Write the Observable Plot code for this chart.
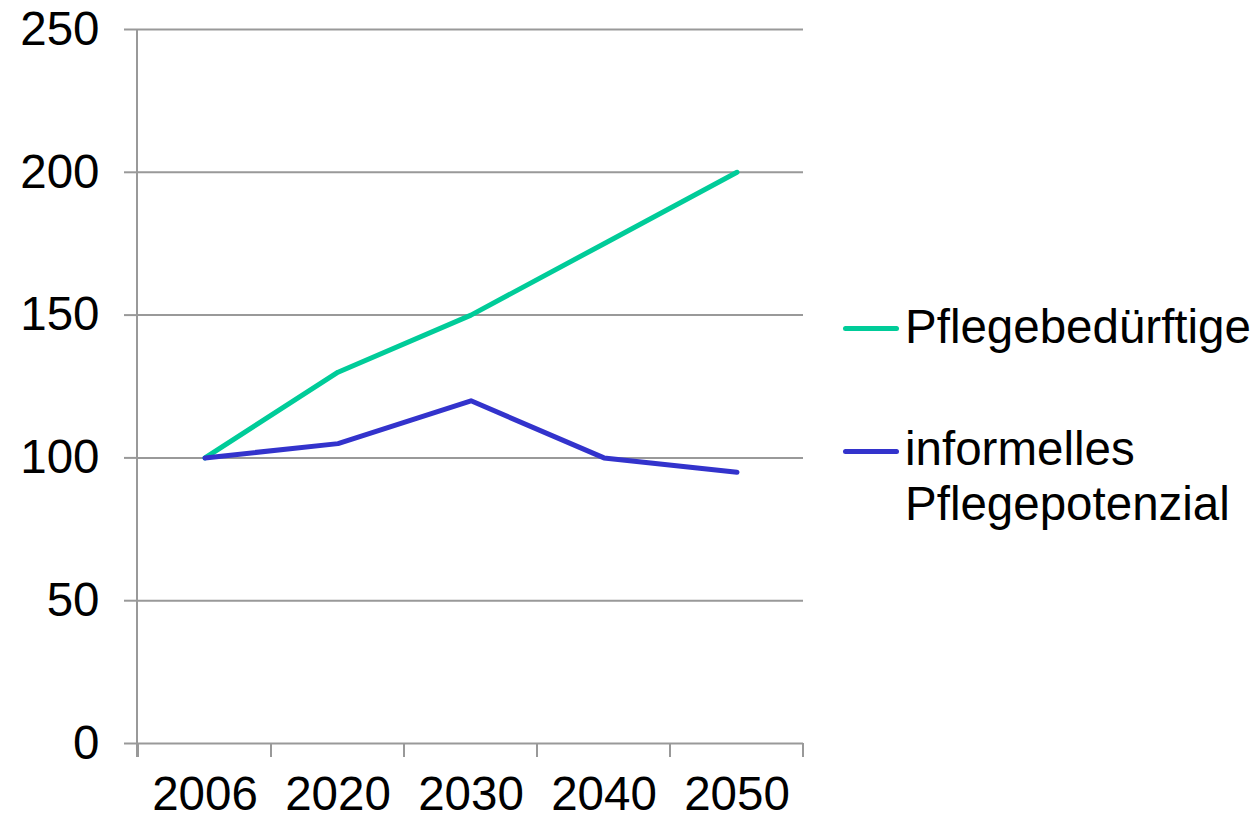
<!DOCTYPE html>
<html>
<head>
<meta charset="utf-8">
<script src="https://cdn.jsdelivr.net/npm/d3@7"></script>
<script src="https://cdn.jsdelivr.net/npm/@observablehq/plot@0.6"></script>
<style>
  body { margin: 0; background: #fff; font-family: "Liberation Sans", Arial, sans-serif; }
  #chart { position: relative; width: 1258px; height: 821px; }
  .swatch { position: absolute; left: 843px; width: 56px; height: 5px; border-radius: 2.5px; }
  .label { position: absolute; left: 905px; font-size: 47.5px; line-height: 55px; color: #000; white-space: nowrap; }
</style>
</head>
<body>
<div id="chart"></div>
<script>
// Years on the category axis
const years = ["2006", "2020", "2030", "2040", "2050"];
// Index values (2006 = 100)
const pflegebeduerftige = [100, 130, 150, 175, 200];
const informellesPotenzial = [100, 105, 120, 100, 95];
// Value axis ticks
const yTicks = [0, 50, 100, 150, 200, 250];
// Series names and colours
const seriesNames = ["Pflegebedürftige", "informelles Pflegepotenzial"];
const seriesColors = ["#00CC99", "#3333CC"];

const rows = [
  ...years.map((year, i) => ({year, value: pflegebeduerftige[i], series: seriesNames[0]})),
  ...years.map((year, i) => ({year, value: informellesPotenzial[i], series: seriesNames[1]}))
];

// Left axis line plus category boundary ticks below the baseline
function categoryFrame(index, scales) {
  const x = scales.x, y = scales.y;
  const [x0] = x.range();
  const g = d3.create("svg:g").attr("stroke", "#999").attr("stroke-width", 2);
  g.append("line").attr("x1", x0).attr("x2", x0).attr("y1", y(250)).attr("y2", y(0) + 14);
  const edges = x.domain().map((d) => x(d)).concat([x(x.domain().at(-1)) + x.bandwidth()]);
  for (const e of edges) {
    g.append("line").attr("x1", e).attr("x2", e).attr("y1", y(0)).attr("y2", y(0) + 14);
  }
  return g.node();
}

const chart = Plot.plot({
  width: 1258,
  height: 821,
  marginLeft: 137,
  marginRight: 455,
  marginTop: 29,
  marginBottom: 78,
  style: {fontFamily: "'Liberation Sans', Arial, sans-serif", fontSize: "47.5px", color: "#000", background: "transparent", overflow: "visible"},
  x: {type: "band", domain: years, padding: 0, label: null},
  y: {domain: [0, 250], label: null},
  color: {domain: seriesNames, range: seriesColors},
  marks: [
    Plot.gridY(yTicks, {stroke: "#999", strokeOpacity: 1, strokeWidth: 2}),
    Plot.axisY(yTicks, {tickSize: 13, tickPadding: 25, stroke: "#999", strokeWidth: 2, fill: "#000", label: null}),
    Plot.axisX({tickSize: 0, tickPadding: 33, fill: "#000", label: null}),
    categoryFrame,
    Plot.line(rows, {x: "year", y: "value", z: "series", stroke: "series", strokeWidth: 5, strokeLinecap: "round", strokeLinejoin: "round"})
  ]
});

const container = document.getElementById("chart");
container.appendChild(chart);

// Legend to the right of the plot
const legendItems = [
  {name: "Pflegebedürftige", color: seriesColors[0], lineY: 328, textTop: 299},
  {name: "informelles<br>Pflegepotenzial", color: seriesColors[1], lineY: 451, textTop: 421}
];
for (const item of legendItems) {
  const sw = document.createElement("div");
  sw.className = "swatch";
  sw.style.top = (item.lineY - 2.5) + "px";
  sw.style.background = item.color;
  container.appendChild(sw);
  const lb = document.createElement("div");
  lb.className = "label";
  lb.style.top = item.textTop + "px";
  lb.innerHTML = item.name;
  container.appendChild(lb);
}
</script>
</body>
</html>
